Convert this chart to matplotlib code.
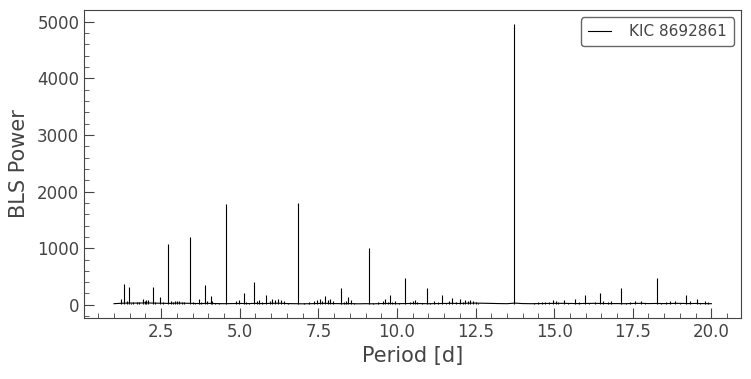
import matplotlib
matplotlib.use("Agg")
import matplotlib.pyplot as plt
import numpy as np

# smooth floor of the periodogram (period [d], BLS power)
base_period = [1.00, 1.25, 1.50, 1.75, 2.00, 2.25, 2.50, 2.75, 3.00, 3.25,
               3.50, 3.75, 4.00, 4.25, 4.50, 4.75, 5.00, 5.25, 5.50, 5.75,
               6.00, 6.25, 6.50, 6.75, 7.00, 7.25, 7.50, 7.75, 8.00, 8.25,
               8.50, 8.75, 9.00, 9.25, 9.50, 9.75, 10.00, 10.25, 10.50, 10.75,
               11.00, 11.25, 11.50, 11.75, 12.00, 12.25, 12.50, 12.75, 13.00, 13.25,
               13.50, 13.75, 14.00, 14.25, 14.50, 14.75, 15.00, 15.25, 15.50, 15.75,
               16.00, 16.25, 16.50, 16.75, 17.00, 17.25, 17.50, 17.75, 18.00, 18.25,
               18.50, 18.75, 19.00, 19.25, 19.50, 19.75, 20.00]
base_power = [20, 28, 32, 30, 35, 30, 28, 25, 30, 28,
              25, 22, 26, 22, 20, 22, 24, 22, 25, 22,
              26, 28, 22, 20, 18, 20, 24, 26, 22, 20,
              22, 18, 20, 18, 22, 24, 20, 22, 24, 22,
              20, 22, 24, 26, 24, 28, 30, 28, 25, 22,
              20, 30, 22, 20, 22, 24, 25, 26, 24, 22,
              24, 26, 24, 22, 22, 20, 24, 26, 22, 24,
              22, 24, 26, 22, 24, 22, 20]

# individual peaks
peak_period = [1.21, 1.33, 1.41, 1.49, 1.55, 1.62, 1.72, 1.80, 1.92, 1.98,
               2.03, 2.08, 2.24, 2.32, 2.46, 2.55, 2.73, 2.80, 2.88, 2.95,
               3.02, 3.08, 3.15, 3.22, 3.42, 3.50, 3.58, 3.70, 3.78, 3.89,
               3.95, 4.08, 4.12, 4.20, 4.35, 4.56, 4.87, 4.97, 5.12, 5.20,
               5.30, 5.45, 5.55, 5.62, 5.71, 5.84, 5.95, 6.03, 6.12, 6.22,
               6.30, 6.40, 6.52, 6.84, 7.05, 7.20, 7.35, 7.45, 7.55, 7.62,
               7.70, 7.80, 7.88, 7.98, 8.21, 8.30, 8.38, 8.44, 8.55, 8.62,
               9.12, 9.25, 9.40, 9.55, 9.62, 9.70, 9.77, 9.85, 9.95, 10.05,
               10.27, 10.40, 10.50, 10.57, 10.65, 10.80, 10.96, 11.05, 11.18, 11.30,
               11.42, 11.55, 11.65, 11.76, 11.88, 12.00, 12.10, 12.18, 12.25, 12.33,
               12.42, 12.50, 12.58, 13.71, 14.35, 14.50, 14.62, 14.72, 14.85, 14.95,
               15.05, 15.13, 15.30, 15.45, 15.67, 15.80, 15.99, 16.12, 16.30, 16.45,
               16.55, 16.70, 16.82, 17.14, 17.30, 17.42, 17.58, 17.75, 17.90, 18.28,
               18.40, 18.55, 18.70, 18.83, 19.00, 19.20, 19.33, 19.53, 19.65, 19.80,
               19.90]
peak_power = [95, 370, 60, 310, 40, 55, 45, 50, 100, 70,
              85, 90, 320, 50, 140, 45, 1070, 60, 50, 65,
              60, 70, 55, 45, 1200, 45, 40, 100, 50, 350,
              60, 160, 70, 40, 35, 1775, 60, 90, 200, 50,
              40, 410, 60, 90, 50, 170, 60, 110, 90, 100,
              80, 60, 40, 1790, 40, 50, 60, 80, 100, 60,
              150, 90, 110, 70, 290, 50, 60, 130, 80, 40,
              1010, 40, 50, 60, 100, 50, 170, 50, 60, 40,
              470, 50, 60, 90, 50, 40, 300, 40, 60, 50,
              180, 40, 60, 120, 50, 110, 50, 80, 70, 80,
              70, 50, 40, 4960, 40, 45, 50, 45, 50, 80,
              60, 50, 80, 40, 110, 50, 170, 40, 50, 200,
              60, 50, 60, 290, 40, 50, 60, 70, 40, 470,
              40, 50, 70, 60, 40, 180, 60, 100, 40, 60,
              50]

label = "KIC 8692861"
text_color = "#444444"

plt.rcParams.update({
    "font.family": "DejaVu Sans",
    "text.color": text_color,
    "axes.labelcolor": text_color,
    "axes.edgecolor": text_color,
    "xtick.color": text_color,
    "ytick.color": text_color,
    "xtick.direction": "in",
    "ytick.direction": "in",
    "xtick.major.size": 7,
    "ytick.major.size": 7,
    "xtick.minor.size": 3.5,
    "ytick.minor.size": 3.5,
    "xtick.labelsize": 12,
    "ytick.labelsize": 12,
    "axes.labelsize": 15,
})

fig = plt.figure(figsize=(7.51, 3.79), dpi=100)
ax = fig.add_axes([0.112, 0.161, 0.875, 0.813])

ax.plot(base_period, base_power, color="black", lw=0.8, label=label)
ax.vlines(peak_period, 15, peak_power, color="black", lw=0.8)

ax.margins(x=0.05, y=0.05)
ax.minorticks_on()
ax.set_xlabel("Period [d]")
ax.set_ylabel("BLS Power", labelpad=6)

leg = ax.legend(loc="upper right", fontsize=11, handlelength=1.5,
                handletextpad=1.2, borderpad=0.45, fancybox=True, framealpha=1)
leg.get_frame().set_edgecolor("#666666")

fig.savefig("out.png", dpi=100)
